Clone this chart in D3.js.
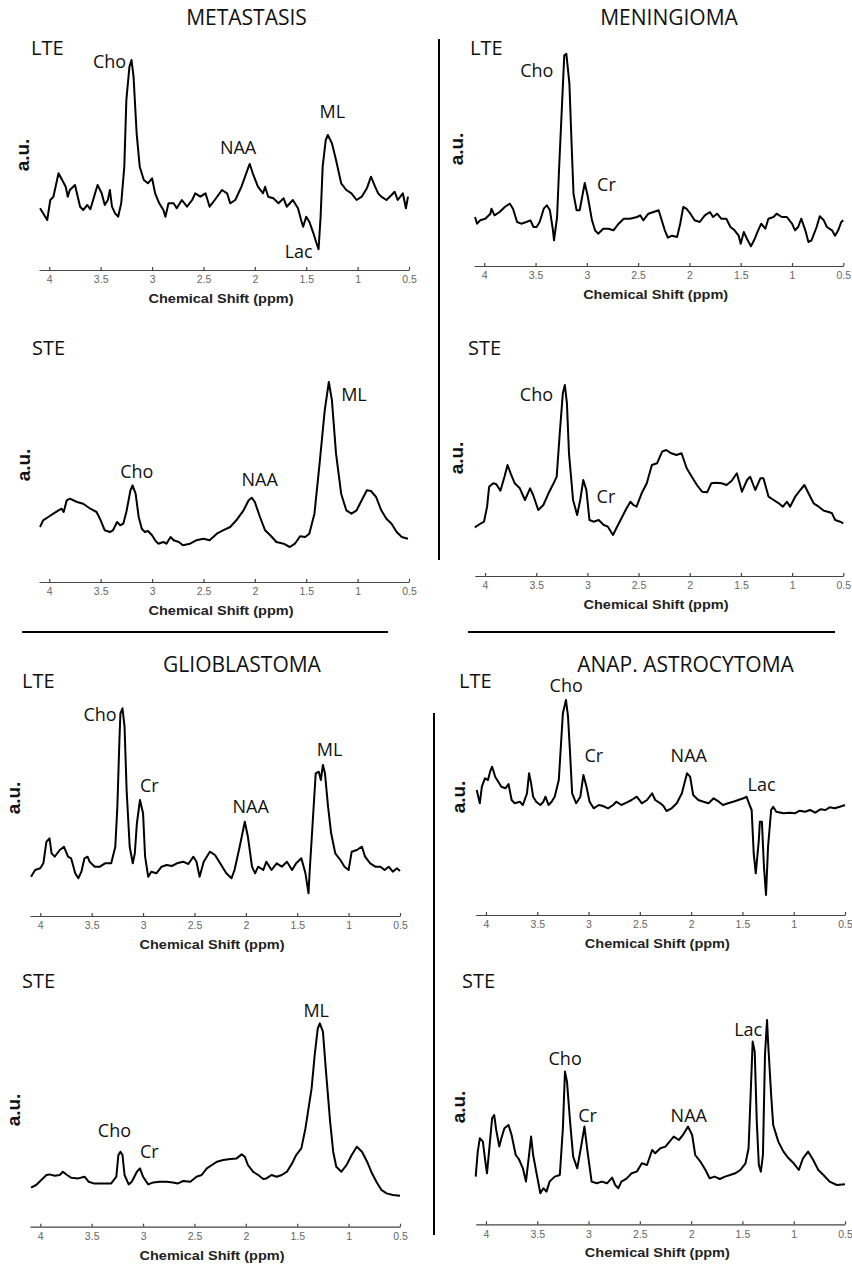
<!DOCTYPE html>
<html><head><meta charset="utf-8">
<script src="https://cdn.jsdelivr.net/npm/d3@7/dist/d3.min.js"></script>
<style>
html,body{margin:0;padding:0;background:#fff;}
svg{display:block;}
</style></head>
<body>
<div id="chart"></div>
<script>
// ---------------- DATA (ppm, arbitrary units) ----------------
const ppmTicks = [4, 3.5, 3, 2.5, 2, 1.5, 1, 0.5];
const xLabel = "Chemical Shift (ppm)";
const yLabel = "a.u.";
const tumourTitles = ["METASTASIS", "MENINGIOMA", "GLIOBLASTOMA", "ANAP. ASTROCYTOMA"];
const echoNames = ["LTE", "STE"];

const metastasisLTE = [[4.09,61.7],[4.06,56.7],[4.02,50],[3.99,70],[3.96,73.3],[3.91,96.7],[3.84,83.3],[3.82,73.3],[3.80,80],[3.75,85],[3.70,63.3],[3.67,60],[3.63,65],[3.60,60.7],[3.55,78.3],[3.53,85],[3.49,76.7],[3.46,65],[3.43,70],[3.41,80],[3.39,63.3],[3.36,56.7],[3.33,53.3],[3.30,66.7],[3.27,103.3],[3.25,170],[3.22,203.3],[3.20,210],[3.18,193.3],[3.15,136.7],[3.12,103.3],[3.08,90],[3.04,86.7],[3.00,91.7],[2.97,76.7],[2.93,66.7],[2.89,60],[2.87,53.3],[2.84,66.7],[2.79,66.7],[2.76,61.7],[2.71,70],[2.66,63.3],[2.61,70],[2.58,76.7],[2.53,73.3],[2.48,76.7],[2.44,63.3],[2.39,70],[2.32,80],[2.27,76.7],[2.24,66.7],[2.19,70],[2.13,83.3],[2.06,103.3],[2.05,106],[2.02,96.7],[1.97,83.3],[1.92,76.7],[1.90,83.3],[1.87,73.3],[1.82,71.7],[1.77,66.7],[1.72,71.7],[1.69,63.3],[1.63,70],[1.58,61.7],[1.55,50],[1.53,43.3],[1.50,53.3],[1.47,48.3],[1.43,36.7],[1.40,26.7],[1.38,20.7],[1.36,53.3],[1.34,103.3],[1.31,130],[1.29,135],[1.25,126.7],[1.21,110],[1.16,86.7],[1.11,80],[1.06,76.7],[1.01,70],[0.96,73.3],[0.91,81.7],[0.87,93.3],[0.83,83.3],[0.80,76.7],[0.77,73.3],[0.72,70],[0.67,75],[0.64,78.3],[0.61,70],[0.56,76.7],[0.53,61.7],[0.51,73.3]];

const metastasisSTE = [[4.09,55],[4.06,61.7],[4.01,65],[3.96,68.3],[3.91,71.7],[3.88,73.3],[3.86,70],[3.83,81.7],[3.80,83.3],[3.73,80],[3.67,78.3],[3.60,73.3],[3.54,70],[3.50,61.7],[3.46,51.7],[3.41,50],[3.38,51.7],[3.34,60],[3.31,56.7],[3.28,58.3],[3.25,70],[3.21,91.7],[3.19,96.7],[3.16,88.3],[3.13,65],[3.10,53.3],[3.07,50],[3.04,51],[3.00,46.7],[2.97,41.7],[2.94,38.3],[2.89,40],[2.86,38.3],[2.82,45],[2.79,41.7],[2.74,40],[2.70,36.7],[2.63,38.3],[2.57,41.7],[2.50,43.3],[2.44,41.7],[2.37,48.3],[2.31,51.7],[2.24,55],[2.18,61.7],[2.11,71.7],[2.06,81.7],[2.03,84.3],[2.00,80],[1.95,65],[1.90,51.7],[1.85,46.7],[1.79,40],[1.72,38.3],[1.66,35],[1.61,38.3],[1.56,45.7],[1.51,45],[1.47,48.3],[1.42,68.3],[1.37,118.3],[1.32,171.7],[1.28,200],[1.25,181.7],[1.21,128.3],[1.16,88.3],[1.11,71.7],[1.06,68.3],[1.01,71.7],[0.96,81.7],[0.91,91.7],[0.87,91],[0.82,85],[0.77,71.7],[0.72,63.3],[0.67,58.3],[0.62,50],[0.57,45],[0.51,43.3]];

const meningiomaLTE = [[4.09,49],[4.07,42.3],[4.04,45.7],[3.99,47.3],[3.94,52.3],[3.93,57.3],[3.90,50.7],[3.85,54],[3.80,59],[3.75,62.3],[3.72,57.3],[3.68,44],[3.64,42.3],[3.59,44],[3.55,45.7],[3.52,39],[3.49,39],[3.46,44],[3.42,57.3],[3.39,60.7],[3.36,55.7],[3.33,35.7],[3.32,25.7],[3.29,49],[3.27,99],[3.24,165.7],[3.22,210.7],[3.20,212.3],[3.17,182.3],[3.15,125.7],[3.13,72.3],[3.10,55.7],[3.07,55.7],[3.04,72.3],[3.02,83],[2.99,69],[2.95,45.7],[2.92,35.7],[2.89,32.3],[2.84,37.3],[2.79,37.3],[2.74,35.7],[2.69,42.3],[2.64,47.3],[2.58,47.3],[2.51,49],[2.48,50.7],[2.45,45.7],[2.40,52.3],[2.35,54],[2.30,55.7],[2.27,45.7],[2.24,35.7],[2.21,28.3],[2.17,30.3],[2.12,29],[2.09,42.3],[2.06,59],[2.03,57.3],[1.99,52.3],[1.95,45.7],[1.90,44],[1.85,50.7],[1.80,54],[1.77,49],[1.73,52.3],[1.69,47.3],[1.64,47.3],[1.60,39],[1.56,35.7],[1.52,30.3],[1.50,22.3],[1.47,34],[1.44,27.3],[1.40,19.7],[1.37,25.7],[1.33,35.7],[1.30,42.3],[1.26,37.3],[1.23,47.3],[1.18,49],[1.15,52.3],[1.10,49],[1.05,49],[1.00,42.3],[0.97,35.7],[0.94,39],[0.91,47.3],[0.87,35.7],[0.84,24],[0.81,25.7],[0.76,39],[0.73,49.7],[0.69,45.7],[0.66,39],[0.61,35.7],[0.58,30.3],[0.55,35.7],[0.52,44],[0.50,45.7]];

const meningiomaSTE = [[4.10,48.7],[4.05,52],[4.01,54.3],[3.98,69.3],[3.96,89.3],[3.92,92.7],[3.89,91.7],[3.85,85.3],[3.81,99.3],[3.78,111],[3.75,102.7],[3.71,92.7],[3.66,87.7],[3.61,76],[3.56,87.7],[3.53,81],[3.48,66],[3.43,71],[3.38,82.7],[3.33,92.7],[3.30,99.3],[3.27,142.7],[3.24,182.7],[3.22,191],[3.20,172.7],[3.18,122.7],[3.14,76],[3.10,61],[3.07,76],[3.04,96],[3.01,86],[2.98,56],[2.94,54.3],[2.89,56],[2.84,51],[2.80,49.3],[2.75,41],[2.71,49.3],[2.66,59.3],[2.62,67.3],[2.58,74.3],[2.55,71],[2.52,69.3],[2.47,82.7],[2.42,92.7],[2.37,111],[2.32,112.7],[2.27,124.3],[2.23,126],[2.18,122.7],[2.13,121],[2.08,122.7],[2.03,107.7],[1.98,99.3],[1.93,91],[1.88,84.3],[1.83,83.7],[1.79,92.7],[1.74,93.3],[1.69,92.7],[1.64,91],[1.59,95.3],[1.54,102.7],[1.49,84.3],[1.44,96],[1.41,99.3],[1.36,86],[1.31,97.7],[1.28,97.7],[1.23,79.3],[1.18,76],[1.13,72.7],[1.09,69.3],[1.05,74.3],[1.02,69.3],[0.97,79.3],[0.92,86],[0.88,91],[0.84,82.7],[0.79,72.7],[0.74,69.3],[0.69,65.3],[0.65,64.3],[0.61,62.7],[0.58,56],[0.53,54.3],[0.50,52.7]];

const glioblastomaLTE = [[4.09,39.3],[4.05,46],[4.00,47.7],[3.97,52.7],[3.94,74.3],[3.91,77.7],[3.89,62.7],[3.86,59.3],[3.81,66],[3.77,69.3],[3.73,59.3],[3.70,57.7],[3.66,42.7],[3.63,37.7],[3.60,44.3],[3.57,57.7],[3.54,59.3],[3.52,54.3],[3.47,49.3],[3.42,49.3],[3.37,52.7],[3.31,52.7],[3.27,69.3],[3.25,109.3],[3.23,176],[3.22,202.7],[3.20,207.7],[3.18,189.3],[3.16,126],[3.13,69.3],[3.10,52.7],[3.08,62.7],[3.06,92.7],[3.03,116],[3.00,102.7],[2.98,59.3],[2.95,39.3],[2.92,44.3],[2.87,42.7],[2.82,49.3],[2.77,51],[2.72,50],[2.67,52.7],[2.61,54.3],[2.56,52],[2.51,59.3],[2.48,54.3],[2.45,39.3],[2.41,54.3],[2.35,64.3],[2.30,61],[2.25,52.7],[2.19,42.7],[2.14,37.7],[2.11,46],[2.06,69.3],[2.01,94.3],[1.98,79.3],[1.94,49.3],[1.91,42.7],[1.88,49.3],[1.83,46],[1.80,54.3],[1.75,46],[1.70,52.7],[1.65,49.3],[1.60,54.3],[1.55,46],[1.51,52.7],[1.46,57.7],[1.42,42.7],[1.39,22.7],[1.38,42.7],[1.35,92.7],[1.32,142.7],[1.29,144.3],[1.27,136],[1.25,151],[1.23,142.7],[1.20,109.3],[1.17,82.7],[1.13,62.7],[1.08,56],[1.04,49.3],[1.00,46],[0.97,64.3],[0.92,66],[0.87,69.3],[0.84,59.3],[0.79,52.7],[0.74,49.3],[0.69,49.3],[0.65,46],[0.61,49.3],[0.57,44.3],[0.53,47.7],[0.50,45]];

const glioblastomaSTE = [[4.09,39],[4.04,41.7],[3.99,46.7],[3.94,51.7],[3.91,52.3],[3.86,51],[3.81,51.7],[3.78,55],[3.74,51.7],[3.70,49],[3.63,48.3],[3.57,50],[3.53,45],[3.48,43.3],[3.42,43.3],[3.35,43.3],[3.31,43.3],[3.26,50],[3.24,71.7],[3.22,75],[3.20,71.7],[3.18,51.7],[3.14,42.3],[3.11,45],[3.06,55],[3.03,58.3],[3.00,50],[2.95,42.3],[2.90,44.3],[2.84,45],[2.77,45],[2.71,44.3],[2.66,43.3],[2.61,45.7],[2.54,45],[2.48,50],[2.43,51.7],[2.38,58.3],[2.33,61.7],[2.28,65],[2.22,66.7],[2.15,67.7],[2.09,68.3],[2.04,72.3],[2.01,70],[1.98,61.7],[1.93,55],[1.88,51.7],[1.83,47.7],[1.80,48.3],[1.75,51.7],[1.70,50],[1.65,51.7],[1.60,55],[1.55,63.3],[1.51,71.7],[1.46,78.3],[1.42,98.3],[1.39,118.3],[1.36,138.3],[1.33,171.7],[1.30,198.3],[1.28,203.3],[1.25,195],[1.22,155],[1.18,105],[1.15,75],[1.12,60],[1.07,55],[1.02,61.7],[0.97,71.7],[0.92,80],[0.87,75],[0.82,65],[0.78,55],[0.73,45],[0.68,36.7],[0.63,33.3],[0.57,31.7],[0.50,31]];

const astrocytomaLTE = [[4.09,125],[4.06,111.7],[4.04,128.3],[4.01,136.7],[3.98,135],[3.96,143.3],[3.94,148.3],[3.91,138.3],[3.88,133.3],[3.85,128.3],[3.81,126.7],[3.78,131],[3.75,115],[3.72,111.7],[3.67,113.3],[3.64,110],[3.60,121.7],[3.58,141.7],[3.56,131.7],[3.54,118.3],[3.51,113.3],[3.47,110],[3.44,113.3],[3.42,118.3],[3.39,110],[3.36,113.3],[3.33,118.3],[3.29,135],[3.27,168.3],[3.25,201.7],[3.22,215],[3.20,198.3],[3.18,161.7],[3.16,121.7],[3.12,111.7],[3.08,118.3],[3.05,140],[3.02,128.3],[2.99,113.3],[2.95,106.7],[2.90,110],[2.86,109],[2.81,106.7],[2.76,110],[2.73,113.3],[2.68,110],[2.63,112.3],[2.58,115],[2.53,118.3],[2.48,111.7],[2.43,115],[2.38,121.7],[2.35,115],[2.30,111.7],[2.27,109],[2.24,104],[2.19,106.7],[2.14,111.7],[2.09,121.7],[2.04,141.7],[2.01,138.3],[1.98,120],[1.93,115],[1.88,113.3],[1.83,111.7],[1.78,116.7],[1.73,113.3],[1.69,110],[1.64,111.7],[1.59,113.3],[1.54,115],[1.49,116.7],[1.46,118.3],[1.43,110],[1.41,105],[1.39,61.7],[1.37,41.7],[1.34,75],[1.33,93.3],[1.31,93.3],[1.29,48.3],[1.27,20],[1.25,68.3],[1.22,105],[1.20,108.3],[1.17,103.3],[1.10,101.7],[1.04,102.3],[0.99,101.7],[0.94,104.3],[0.89,103.3],[0.84,105],[0.79,102.3],[0.74,105.7],[0.69,105],[0.65,107.7],[0.60,106.7],[0.55,108.3],[0.50,110]];

const astrocytomaSTE = [[4.10,47.7],[4.08,72.7],[4.06,86],[4.03,82.7],[4.01,66],[3.99,51],[3.97,72.7],[3.94,106],[3.92,109.3],[3.90,94.3],[3.87,77.7],[3.85,86],[3.82,96],[3.78,99.3],[3.75,89.3],[3.71,69.3],[3.68,65.3],[3.64,56],[3.61,42.7],[3.58,69.3],[3.56,87.7],[3.54,69.3],[3.51,52.7],[3.47,31],[3.44,36],[3.41,32.7],[3.38,42.7],[3.33,47.7],[3.28,49.3],[3.25,96],[3.23,152.7],[3.21,142.7],[3.18,102.7],[3.15,67.7],[3.11,56],[3.07,79.3],[3.04,97.7],[3.01,72.7],[2.97,42.7],[2.92,41],[2.87,42.7],[2.82,41],[2.77,46.7],[2.74,39.3],[2.71,36],[2.68,42.7],[2.63,45.7],[2.58,51],[2.53,52.7],[2.48,61],[2.43,59.3],[2.38,74.3],[2.35,71],[2.30,76],[2.25,77.7],[2.21,82.7],[2.17,87.7],[2.12,84.3],[2.08,89.3],[2.03,97.7],[1.99,89.3],[1.96,69.3],[1.91,62.7],[1.86,54.3],[1.82,46],[1.77,47.7],[1.72,45.3],[1.67,47.7],[1.62,49.3],[1.57,51],[1.52,54.3],[1.47,61],[1.44,76],[1.42,129.3],[1.40,182.7],[1.38,172.7],[1.36,102.7],[1.34,59.3],[1.32,52.7],[1.30,69.3],[1.28,169.3],[1.26,204.3],[1.25,182.7],[1.22,129.3],[1.20,99.3],[1.15,82.7],[1.10,72.7],[1.05,66],[1.00,61],[0.95,54.3],[0.91,66],[0.86,72.7],[0.81,64.3],[0.76,54.3],[0.71,49.3],[0.65,42.7],[0.58,39.3],[0.50,40]];

// peak annotations: [name, ppm at text start, a.u. at baseline]
const metastasisLTEPeaks = [["Cho",3.575,202],["NAA",2.34,116],["ML",1.37,152],["Lac",1.71,12]];
const metastasisSTEPeaks = [["Cho",3.31,104],["NAA",2.13,96],["ML",1.16,181]];
const meningiomaLTEPeaks = [["Cho",3.65,189],["Cr",2.90,75]];
const meningiomaSTEPeaks = [["Cho",3.66,175],["Cr",2.91,73]];
const glioblastomaLTEPeaks = [["Cho",3.58,195],["Cr",3.03,124],["NAA",2.13,103],["ML",1.31,160]];
const glioblastomaSTEPeaks = [["Cho",3.44,90],["Cr",3.03,69],["ML",1.44,210]];
const astrocytomaLTEPeaks = [["Cho",3.38,223],["Cr",3.04,153],["NAA",2.20,153],["Lac",1.45,124]];
const astrocytomaSTEPeaks = [["Lac",1.58,188],["Cho",3.39,159],["Cr",3.10,102],["NAA",2.20,102]];

// ---------------- LAYOUT ----------------
const W = 852, H = 1265;
const panels = [
  {data: metastasisLTE,   peaks: metastasisLTEPeaks,   echo: 0, x0: 39.0,  x1: 409.0, axisY: 270,   echoX: 31,  echoY: 55,  auX: 29,  auY: 155},
  {data: metastasisSTE,   peaks: metastasisSTEPeaks,   echo: 1, x0: 39.0,  x1: 409.0, axisY: 582,   echoX: 32,  echoY: 355, auX: 30,  auY: 465},
  {data: meningiomaLTE,   peaks: meningiomaLTEPeaks,   echo: 0, x0: 474.0, x1: 843.3, axisY: 266,   echoX: 470, echoY: 55,  auX: 463, auY: 149},
  {data: meningiomaSTE,   peaks: meningiomaSTEPeaks,   echo: 1, x0: 474.8, x1: 843.3, axisY: 576,   echoX: 468, echoY: 355, auX: 463, auY: 458},
  {data: glioblastomaLTE, peaks: glioblastomaLTEPeaks, echo: 0, x0: 30.0,  x1: 400.0, axisY: 916,   echoX: 22,  echoY: 688, auX: 20,  auY: 798},
  {data: glioblastomaSTE, peaks: glioblastomaSTEPeaks, echo: 1, x0: 30.0,  x1: 400.0, axisY: 1226.7,echoX: 22,  echoY: 988, auX: 20,  auY: 1110},
  {data: astrocytomaLTE,  peaks: astrocytomaLTEPeaks,  echo: 0, x0: 475.7, x1: 845.0, axisY: 915,   echoX: 459, echoY: 688, auX: 465, auY: 797},
  {data: astrocytomaSTE,  peaks: astrocytomaSTEPeaks,  echo: 1, x0: 475.7, x1: 845.0, axisY: 1224.3,echoX: 462, echoY: 988, auX: 465, auY: 1107}
];
const titlePos = [[246.5, 25], [669, 25], [242, 672], [685.5, 672]];
const dividers = [[439, 39, 439, 560], [22, 632, 388, 632], [468, 632, 835, 632], [434, 713, 434, 1235]];

const TEXT_FONT = "'Open Sans', 'Noto Sans', sans-serif";
const AXIS_FONT = "'Liberation Sans', Arial, sans-serif";

const svg = d3.select("#chart").append("svg").attr("width", W).attr("height", H);
svg.append("rect").attr("width", W).attr("height", H).attr("fill", "#fff");

// titles
svg.selectAll("text.title").data(tumourTitles).join("text")
  .attr("class", "title")
  .attr("x", (d, i) => titlePos[i][0]).attr("y", (d, i) => titlePos[i][1])
  .attr("text-anchor", "middle")
  .attr("font-family", TEXT_FONT).attr("font-size", 21).attr("fill", "#111")
  .text(d => d);

// dividers
svg.selectAll("line.div").data(dividers).join("line")
  .attr("x1", d => d[0]).attr("y1", d => d[1]).attr("x2", d => d[2]).attr("y2", d => d[3])
  .attr("stroke", "#000").attr("stroke-width", 2);

panels.forEach(p => {
  const g = svg.append("g");
  const x = d3.scaleLinear().domain([4.1, 0.5]).range([p.x0, p.x1]);
  const y = d3.scaleLinear().domain([0, 100]).range([p.axisY, p.axisY - 100]);

  // axis
  const ax = g.append("g").attr("transform", `translate(0,${p.axisY})`)
    .call(d3.axisBottom(x).tickValues(ppmTicks).tickSize(-3).tickSizeOuter(0).tickPadding(6)
      .tickFormat(d => String(d)));
  ax.select(".domain").attr("stroke", "#444").attr("stroke-width", 1.2);
  ax.selectAll(".tick line").attr("stroke", "#444").attr("stroke-width", 1.2);
  ax.selectAll(".tick text").attr("font-family", AXIS_FONT).attr("font-size", 10.5).attr("fill", "#666");

  // x label
  g.append("text")
    .attr("x", (p.x0 + p.x1) / 2 - 3).attr("y", p.axisY + 33)
    .attr("text-anchor", "middle")
    .attr("font-family", AXIS_FONT).attr("font-weight", "bold").attr("font-size", 12)
    .attr("fill", "#222")
    .attr("textLength", 145).attr("lengthAdjust", "spacingAndGlyphs")
    .text(xLabel);

  // y label
  g.append("text")
    .attr("transform", `translate(${p.auX},${p.auY}) rotate(-90)`)
    .attr("text-anchor", "middle")
    .attr("font-family", AXIS_FONT).attr("font-weight", "bold").attr("font-size", 19)
    .attr("fill", "#111")
    .text(yLabel);

  // echo label
  g.append("text")
    .attr("x", p.echoX).attr("y", p.echoY)
    .attr("font-family", TEXT_FONT).attr("font-size", 20).attr("fill", "#111")
    .text(echoNames[p.echo]);

  // spectrum
  const line = d3.line().x(d => x(d[0])).y(d => y(d[1])).curve(d3.curveLinear);
  g.append("path").datum(p.data)
    .attr("d", line)
    .attr("fill", "none").attr("stroke", "#000").attr("stroke-width", 2)
    .attr("stroke-linejoin", "round");

  // peak labels
  g.selectAll("text.peak").data(p.peaks).join("text")
    .attr("class", "peak")
    .attr("x", d => x(d[1])).attr("y", d => y(d[2]))
    .attr("font-family", TEXT_FONT).attr("font-size", 18).attr("fill", "#111")
    .text(d => d[0]);
});
</script>
</body></html>
